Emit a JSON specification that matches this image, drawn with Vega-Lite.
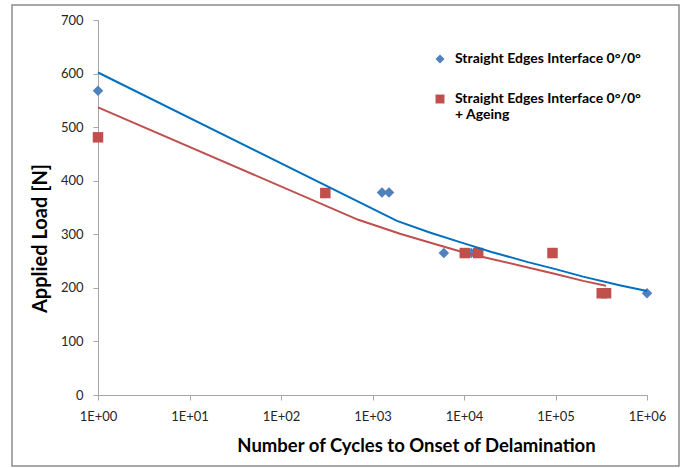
{
  "$schema": "https://vega.github.io/schema/vega-lite/v6.json",
  "width": 667,
  "height": 461,
  "autosize": {"type": "none"},
  "padding": {"left": 12, "top": 5, "right": 7, "bottom": 2},
  "background": "white",
  "config": {
    "view": {"stroke": "#8c8c8c", "strokeWidth": 1.5},
    "font": "Lato",
    "axis": {
      "grid": false,
      "domainColor": "#a6a6a6",
      "tickColor": "#a6a6a6",
      "tickSize": 5,
      "labelFont": "Lato",
      "labelFontSize": 13,
      "labelColor": "#262626",
      "titleFont": "Lato",
      "titleFontWeight": "bold",
      "titleColor": "#000000"
    }
  },
  "datasets": {
    "pts": [
      {"series": "Straight Edges Interface 0°/0°", "cycles": 1, "load": 568},
      {"series": "Straight Edges Interface 0°/0°", "cycles": 1270, "load": 378},
      {"series": "Straight Edges Interface 0°/0°", "cycles": 1515, "load": 378},
      {"series": "Straight Edges Interface 0°/0°", "cycles": 6020, "load": 265},
      {"series": "Straight Edges Interface 0°/0°", "cycles": 12000, "load": 265},
      {"series": "Straight Edges Interface 0°/0°", "cycles": 1000000, "load": 190},
      {"series": "Straight Edges Interface 0°/0° + Ageing", "cycles": 1, "load": 481},
      {"series": "Straight Edges Interface 0°/0° + Ageing", "cycles": 305, "load": 377},
      {"series": "Straight Edges Interface 0°/0° + Ageing", "cycles": 10200, "load": 265},
      {"series": "Straight Edges Interface 0°/0° + Ageing", "cycles": 14300, "load": 265},
      {"series": "Straight Edges Interface 0°/0° + Ageing", "cycles": 92700, "load": 265},
      {"series": "Straight Edges Interface 0°/0° + Ageing", "cycles": 320000, "load": 190},
      {"series": "Straight Edges Interface 0°/0° + Ageing", "cycles": 357000, "load": 190}
    ],
    "trend": [
      {"series": "Straight Edges Interface 0°/0°", "cycles": 1, "load": 602},
      {"series": "Straight Edges Interface 0°/0°", "cycles": 1850, "load": 325},
      {"series": "Straight Edges Interface 0°/0°", "cycles": 4300, "load": 303},
      {"series": "Straight Edges Interface 0°/0°", "cycles": 10000, "load": 283},
      {"series": "Straight Edges Interface 0°/0°", "cycles": 20000, "load": 267},
      {"series": "Straight Edges Interface 0°/0°", "cycles": 50000, "load": 248},
      {"series": "Straight Edges Interface 0°/0°", "cycles": 100000, "load": 235},
      {"series": "Straight Edges Interface 0°/0°", "cycles": 200000, "load": 221},
      {"series": "Straight Edges Interface 0°/0°", "cycles": 500000, "load": 205},
      {"series": "Straight Edges Interface 0°/0°", "cycles": 1000000, "load": 194},
      {"series": "Straight Edges Interface 0°/0° + Ageing", "cycles": 1, "load": 537},
      {"series": "Straight Edges Interface 0°/0° + Ageing", "cycles": 700, "load": 327},
      {"series": "Straight Edges Interface 0°/0° + Ageing", "cycles": 2000, "load": 301},
      {"series": "Straight Edges Interface 0°/0° + Ageing", "cycles": 5000, "load": 281},
      {"series": "Straight Edges Interface 0°/0° + Ageing", "cycles": 10000, "load": 266},
      {"series": "Straight Edges Interface 0°/0° + Ageing", "cycles": 20000, "load": 254},
      {"series": "Straight Edges Interface 0°/0° + Ageing", "cycles": 50000, "load": 238},
      {"series": "Straight Edges Interface 0°/0° + Ageing", "cycles": 100000, "load": 226},
      {"series": "Straight Edges Interface 0°/0° + Ageing", "cycles": 200000, "load": 213},
      {"series": "Straight Edges Interface 0°/0° + Ageing", "cycles": 357000, "load": 204}
    ]
  },
  "encoding": {
    "x": {
      "field": "cycles",
      "type": "quantitative",
      "scale": {"type": "log", "domain": [1, 1000000], "range": [86, 635]},
      "axis": {
        "orient": "bottom",
        "offset": -71,
        "values": [1, 10, 100, 1000, 10000, 100000, 1000000],
        "labelExpr": "'1E+' + format(round(log(datum.value) / LN10), '02d')",
        "labelFlush": false,
        "labelPadding": 10,
        "title": "Number of Cycles to Onset of Delamination",
        "titleFontSize": 18.5,
        "titlePadding": 13,
        "titleX": 404
      }
    },
    "y": {
      "field": "load",
      "type": "quantitative",
      "scale": {"domain": [0, 700], "range": [390, 15]},
      "axis": {
        "orient": "left",
        "offset": -86,
        "values": [0, 100, 200, 300, 400, 500, 600, 700],
        "labelFlush": false,
        "labelPadding": 10,
        "title": "Applied Load [N]",
        "titleFontSize": 20,
        "titlePadding": 10,
        "titleY": 233
      }
    }
  },
  "layer": [
    {
      "data": {"name": "pts"},
      "mark": {"type": "point", "filled": true, "opacity": 1, "size": 110},
      "encoding": {
        "color": {
          "field": "series",
          "type": "nominal",
          "scale": {
            "domain": ["Straight Edges Interface 0°/0°", "Straight Edges Interface 0°/0° + Ageing"],
            "range": ["#4f81bd", "#c0504d"]
          },
          "legend": {
            "title": null,
            "orient": "none",
            "legendX": 421,
            "legendY": 47,
            "padding": 0,
            "symbolSize": 80,
            "symbolStrokeWidth": 0,
            "labelFont": "Lato",
            "labelFontSize": 14,
            "labelFontWeight": "bold",
            "labelColor": "#000000",
            "labelOffset": 8,
            "labelLimit": 400,
            "labelBaseline": "middle",
            "rowPadding": 26,
            "labelExpr": "indexof(datum.label, 'Ageing') >= 0 ? ['Straight Edges Interface 0°/0°', '+ Ageing'] : datum.label"
          }
        },
        "shape": {
          "field": "series",
          "type": "nominal",
          "scale": {
            "domain": ["Straight Edges Interface 0°/0°", "Straight Edges Interface 0°/0° + Ageing"],
            "range": ["diamond", "square"]
          },
          "legend": null
        },
        "order": {"field": "series", "sort": "ascending"}
      }
    },
    {
      "data": {"name": "trend"},
      "mark": {"type": "line", "strokeWidth": 2, "clip": false},
      "encoding": {
        "stroke": {
          "field": "series",
          "type": "nominal",
          "scale": {
            "domain": ["Straight Edges Interface 0°/0° + Ageing", "Straight Edges Interface 0°/0°"],
            "range": ["#c0504d", "#0070c0"]
          },
          "legend": null
        }
      }
    }
  ]
}
